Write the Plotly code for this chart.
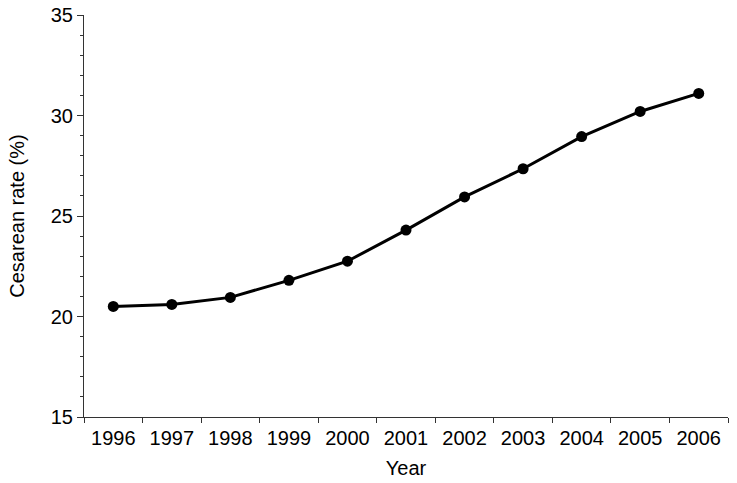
import plotly.graph_objects as go

years = ["1996", "1997", "1998", "1999", "2000", "2001", "2002", "2003", "2004", "2005", "2006"]
rates = [20.5, 20.6, 20.95, 21.8, 22.75, 24.3, 25.95, 27.35, 28.95, 30.2, 31.1]
y_ticks = [15, 20, 25, 30, 35]

fig = go.Figure(go.Scatter(
    x=years, y=rates, mode="lines+markers",
    line=dict(color="black", width=3),
    marker=dict(color="black", size=11),
    cliponaxis=False,
))

fig.update_layout(
    width=737, height=483,
    margin=dict(l=84, r=9, t=15, b=66),
    plot_bgcolor="white", paper_bgcolor="white",
    font=dict(family="Liberation Sans, Arial, sans-serif", size=20, color="black"),
    showlegend=False,
)
fig.update_xaxes(
    type="category", range=[-0.5, len(years) - 0.5],
    tickson="boundaries", ticks="outside", ticklen=5,
    tickcolor="#333", showline=True, linecolor="#333", linewidth=1,
    showgrid=False, title=dict(text="Year", standoff=12, font=dict(size=20)),
    tickfont=dict(size=20), ticklabelstandoff=3, automargin=False,
)
fig.update_yaxes(
    range=[15, 35], tickvals=y_ticks, ticks="outside", ticklen=6,
    tickcolor="#333", showline=True, linecolor="#333", linewidth=1,
    showgrid=False, zeroline=False,
    title=dict(text="Cesarean rate (%)", standoff=20, font=dict(size=20)),
    minor=dict(dtick=1, ticks="outside", ticklen=3, tickcolor="#333", showgrid=False),
    tickfont=dict(size=20), automargin=False,
)

fig.write_html("out.html", config={"displayModeBar": False},
               post_script="document.body.style.margin='0';")
